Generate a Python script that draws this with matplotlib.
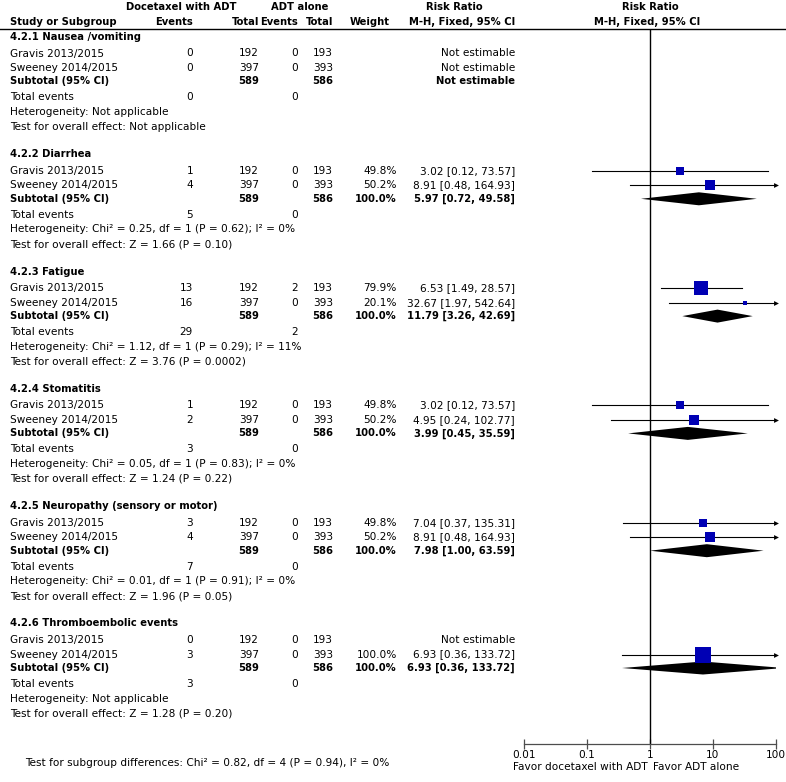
import matplotlib
matplotlib.use("Agg")
import matplotlib.pyplot as plt

plt.rcParams['font.family'] = ['DejaVu Sans']
FS = 7.6
FSB = 7.2

# data
groups = ['4.2.1 Nausea /vomiting', '4.2.2 Diarrhea', '4.2.3 Fatigue', '4.2.4 Stomatitis',
          '4.2.5 Neuropathy (sensory or motor)', '4.2.6 Thromboembolic events']
studies = ['Gravis 2013/2015', 'Sweeney 2014/2015']
doc_events = [[0, 0], [1, 4], [13, 16], [1, 2], [3, 4], [0, 3]]
doc_total = [192, 397]
adt_events = [[0, 0], [0, 0], [2, 0], [0, 0], [0, 0], [0, 0]]
adt_total = [193, 393]
doc_sum = 589
adt_sum = 586
weights = [[None, None], [49.8, 50.2], [79.9, 20.1], [49.8, 50.2], [49.8, 50.2], [None, 100.0]]
rr = [[None, None], [3.02, 8.91], [6.53, 32.67], [3.02, 4.95], [7.04, 8.91], [None, 6.93]]
rr_lo = [[None, None], [0.12, 0.48], [1.49, 1.97], [0.12, 0.24], [0.37, 0.48], [None, 0.36]]
rr_hi = [[None, None], [73.57, 164.93], [28.57, 542.64], [73.57, 102.77], [135.31, 164.93], [None, 133.72]]
sub_rr = [None, 5.97, 11.79, 3.99, 7.98, 6.93]
sub_lo = [None, 0.72, 3.26, 0.45, 1.00, 0.36]
sub_hi = [None, 49.58, 42.69, 35.59, 63.59, 133.72]
heterogeneity = ['Not applicable',
                 'Chi² = 0.25, df = 1 (P = 0.62); I² = 0%',
                 'Chi² = 1.12, df = 1 (P = 0.29); I² = 11%',
                 'Chi² = 0.05, df = 1 (P = 0.83); I² = 0%',
                 'Chi² = 0.01, df = 1 (P = 0.91); I² = 0%',
                 'Not applicable']
overall = ['Not applicable', 'Z = 1.66 (P = 0.10)', 'Z = 3.76 (P = 0.0002)',
           'Z = 1.24 (P = 0.22)', 'Z = 1.96 (P = 0.05)', 'Z = 1.28 (P = 0.20)']
subgroup_test = 'Test for subgroup differences: Chi² = 0.82, df = 4 (P = 0.94), I² = 0%'
ticks = [0.01, 0.1, 1, 10, 100]
tick_labels = ['0.01', '0.1', '1', '10', '100']

W, H = 786, 782
fig = plt.figure(figsize=(W / 100, H / 100), dpi=100)
ax = fig.add_axes([0, 0, 1, 1])
ax.set_xlim(0, W)
ax.set_ylim(H, 0)
ax.axis('off')

# forest panel, y in pixel rows
x0, x1, ytop, ybot = 524, 776, 30, 744
fx = fig.add_axes([x0 / W, 1 - ybot / H, (x1 - x0) / W, (ybot - ytop) / H])
fx.set_xscale('log')
fx.set_xlim(0.01, 100)
fx.set_ylim(ybot, ytop)
fx.patch.set_visible(False)
for s in ['top', 'left', 'right']:
    fx.spines[s].set_visible(False)
fx.spines['bottom'].set_color('0.3')
fx.spines['bottom'].set_linewidth(0.9)
fx.set_xticks(ticks)
fx.set_xticklabels(tick_labels)
fx.minorticks_off()
fx.set_yticks([])
fx.tick_params(axis='x', direction='inout', length=7, width=0.9, color='0.3', pad=1, labelsize=FS)
fx.axvline(1, color='black', lw=1)


def txt(x, y, s, ha='left', bold=False):
    ax.text(x, y, s, ha=ha, va='center', fontsize=FSB if bold else FS,
            fontweight='bold' if bold else 'normal')


# header
ax.plot([0, W], [29, 29], color='black', lw=1)
txt(181, 7, 'Docetaxel with ADT', ha='center', bold=True)
txt(300, 7, 'ADT alone', ha='center', bold=True)
txt(454, 7, 'Risk Ratio', ha='center', bold=True)
txt(650, 7, 'Risk Ratio', ha='center', bold=True)
txt(10, 22, 'Study or Subgroup', bold=True)
txt(193, 22, 'Events', ha='right', bold=True)
txt(259, 22, 'Total', ha='right', bold=True)
txt(298, 22, 'Events', ha='right', bold=True)
txt(333, 22, 'Total', ha='right', bold=True)
txt(390, 22, 'Weight', ha='right', bold=True)
txt(462, 22, 'M-H, Fixed, 95% CI', ha='center', bold=True)
txt(647, 22, 'M-H, Fixed, 95% CI', ha='center', bold=True)

blue = '#0000B4'
for g, name in enumerate(groups):
    y0 = 37 + g * 117.3
    txt(10, y0, name, bold=True)
    for i, st in enumerate(studies):
        y = y0 + [16.5, 31][i]
        txt(10, y, st)
        txt(193, y, str(doc_events[g][i]), ha='right')
        txt(259, y, str(doc_total[i]), ha='right')
        txt(298, y, str(adt_events[g][i]), ha='right')
        txt(333, y, str(adt_total[i]), ha='right')
        w = weights[g][i]
        if w is None:
            txt(515, y, 'Not estimable', ha='right')
            continue
        txt(397, y, f'{w:.1f}%', ha='right')
        txt(515, y, f'{rr[g][i]:.2f} [{rr_lo[g][i]:.2f}, {rr_hi[g][i]:.2f}]', ha='right')
        hi = rr_hi[g][i]
        fx.plot([rr_lo[g][i], min(hi, 100)], [y, y], color='black', lw=0.8)
        if hi > 100:
            fx.plot(100, y, marker='>', ms=3.5, color='black', mew=0, clip_on=False)
        fx.plot(rr[g][i], y, marker='s', ms=(2 + 0.14 * w) * 0.72, color=blue, mew=0)
    ys = y0 + 44.5
    txt(10, ys, 'Subtotal (95% CI)', bold=True)
    txt(259, ys, str(doc_sum), ha='right', bold=True)
    txt(333, ys, str(adt_sum), ha='right', bold=True)
    if sub_rr[g] is None:
        txt(515, ys, 'Not estimable', ha='right', bold=True)
    else:
        txt(397, ys, '100.0%', ha='right', bold=True)
        txt(515, ys, f'{sub_rr[g]:.2f} [{sub_lo[g]:.2f}, {sub_hi[g]:.2f}]', ha='right', bold=True)
        fx.fill([sub_lo[g], sub_rr[g], sub_hi[g], sub_rr[g]], [ys, ys - 6.5, ys, ys + 6.5],
                color='black', lw=0)
    yt = y0 + 60.5
    txt(10, yt, 'Total events')
    txt(193, yt, str(sum(doc_events[g])), ha='right')
    txt(298, yt, str(sum(adt_events[g])), ha='right')
    txt(10, y0 + 75, 'Heterogeneity: ' + heterogeneity[g])
    txt(10, y0 + 90, 'Test for overall effect: ' + overall[g])

txt(25, 763, subgroup_test)
txt(648, 767, 'Favor docetaxel with ADT', ha='right')
txt(653, 767, 'Favor ADT alone')

fig.savefig('out.png', dpi=100)
